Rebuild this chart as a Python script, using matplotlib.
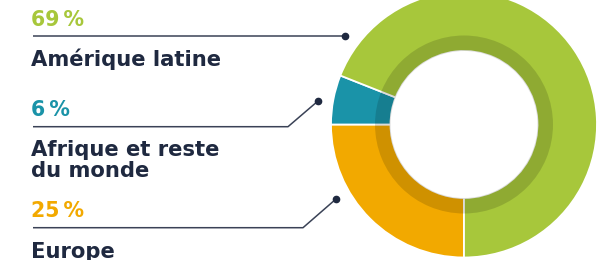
import matplotlib
matplotlib.use('Agg')
import matplotlib.pyplot as plt

# Données
regions = ["Europe", "Afrique et reste\ndu monde", "Amérique latine"]
shares = [25, 6, 69]
pct_labels = ["25\u202f%", "6\u202f%", "69\u202f%"]
colors = ["#f2a900", "#1a93a8", "#a7c73b"]

NAVY = "#1f2940"
LINE = "#3a4256"

W, H = 611, 260
fig = plt.figure(figsize=(W / 100, H / 100), dpi=100)
ax = fig.add_axes([0, 0, 1, 1])

cx, cy = 464, H - 124.5
r_out, r_band, r_in = 133, 89, 73.5

ax.pie(shares, radius=r_out, center=(cx, cy), startangle=270, counterclock=False,
       colors=colors, wedgeprops=dict(width=r_out - r_in, edgecolor='white', linewidth=1.3))
# anneau intérieur assombri
ax.pie([1], radius=r_band, center=(cx, cy), colors=['black'],
       wedgeprops=dict(width=r_band - r_in, linewidth=0, alpha=0.14))

# Labels à gauche (positions en pixels depuis le haut)
font = dict(family=["DejaVu Sans"], fontweight='bold')
label_pos = [
    # pct_baseline, name_baseline, line_y, elbow_x, dot_x, dot_y
    (217.3, 258, 227.7, 303, 336, 199),
    (116, 156, 126.7, 288, 318, 101),
    (26, 66, 36, 345, 345, 36),
]
for i, (py, ny, ly, ex, dx, dy) in enumerate(label_pos):
    ax.text(31, H - py, pct_labels[i], color=colors[i], fontsize=14.8, va='baseline', ha='left', **font)
    lines = regions[i].split("\n")
    for j, s in enumerate(lines):
        ax.text(31, H - ny - j * 20.7, s, color=NAVY, fontsize=15.2, va='baseline', ha='left', **font)
    ax.plot([33, ex, dx], [H - ly, H - ly, H - dy], color=LINE, lw=1.1, solid_capstyle='butt')
    ax.plot(dx, H - dy, 'o', color=NAVY, ms=4.5)

ax.set_xlim(0, W)
ax.set_ylim(0, H)
ax.set_aspect('auto')
ax.axis('off')

plt.savefig("out.png", dpi=100, facecolor='white')
